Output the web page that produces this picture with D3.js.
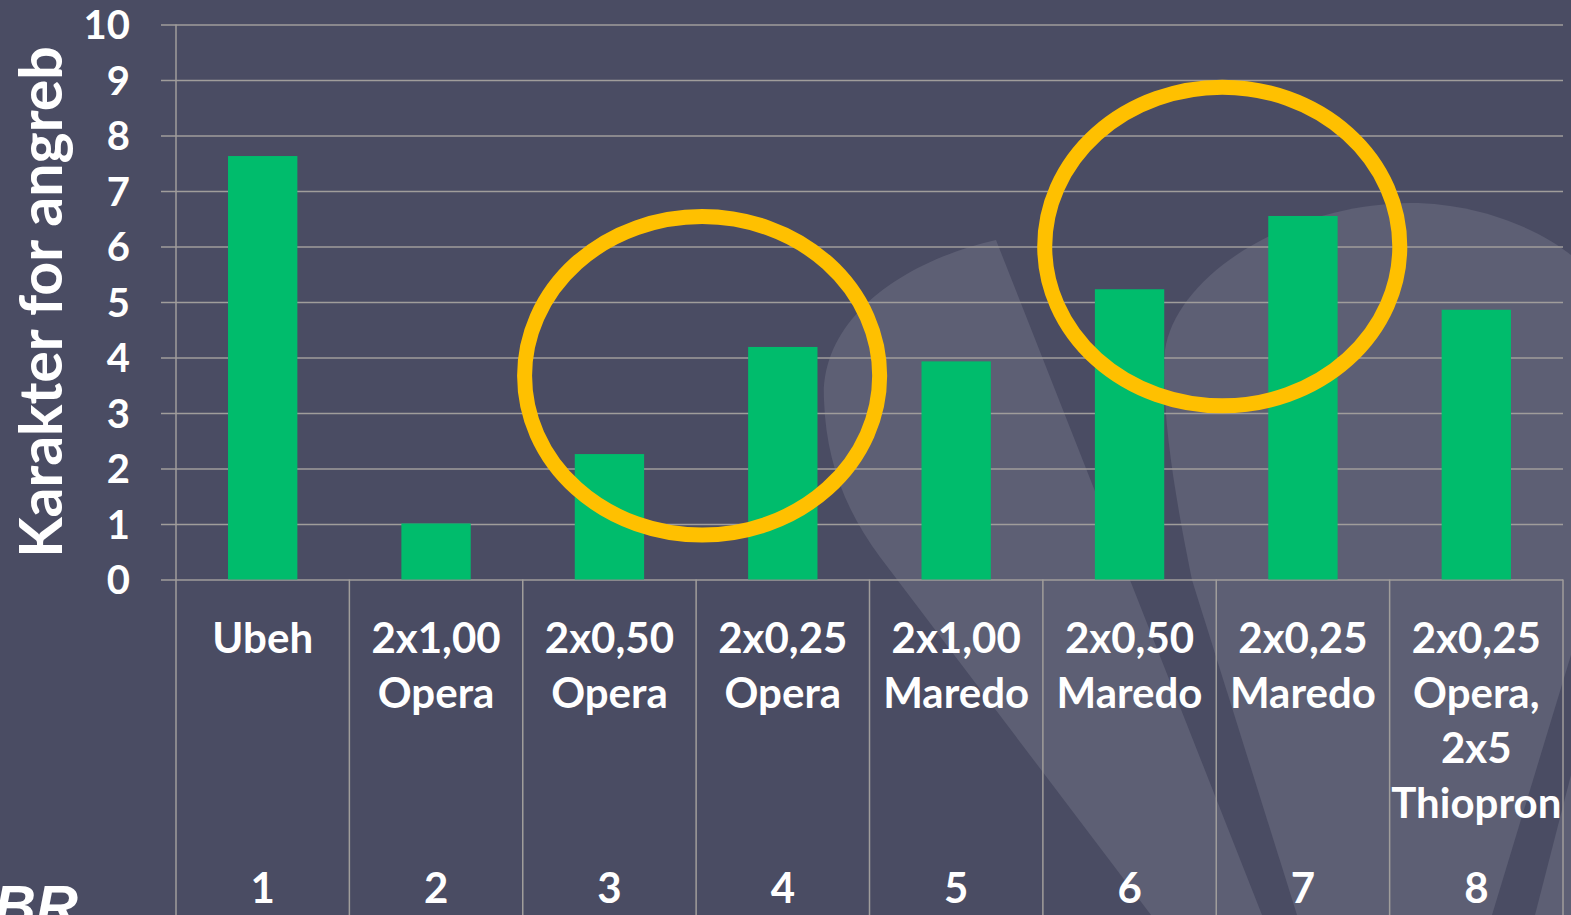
<!DOCTYPE html>
<html>
<head>
<meta charset="utf-8">
<script src="https://cdn.jsdelivr.net/npm/d3@7"></script>
<style>
  html, body { margin: 0; padding: 0; background: #4a4c63; overflow: hidden; }
  svg { display: block; }
</style>
</head>
<body>
<svg id="chart"></svg>
<script>
// data
const categories = ["1", "2", "3", "4", "5", "6", "7", "8"];
const treatments = [
    ["Ubeh"],
    ["2x1,00", "Opera"],
    ["2x0,50", "Opera"],
    ["2x0,25", "Opera"],
    ["2x1,00", "Maredo"],
    ["2x0,50", "Maredo"],
    ["2x0,25", "Maredo"],
    ["2x0,25", "Opera,", "2x5", "Thiopron"]
];
const values = [7.63, 1.01, 2.26, 4.19, 3.93, 5.23, 6.55, 4.86];
const yTicks = [0, 1, 2, 3, 4, 5, 6, 7, 8, 9, 10];
const yTitle = "Karakter for angreb";

// highlighted pairs (ellipse around two bars, centre value on y)
const highlightPairs = [["3", "4"], ["6", "7"]];
const highlightCentre = [3.67, 6.0];

const width = 1571;
const height = 915;

const svg = d3.select("#chart")
    .attr("width", width)
    .attr("height", height);

svg.append("rect")
    .attr("width", width)
    .attr("height", height)
    .attr("fill", "#4a4c63");

// faint background watermark of the slide
const watermark = svg.append("g").attr("fill", "#5d5f74");
watermark.append("path")
    .attr("d", "M996,240 C900,262 820,320 824,400 C826,460 845,510 880,557 L1151,915 L1262,915 Z");
watermark.append("path")
    .attr("d", "M1297,915 L1192,580 C1180,520 1160,420 1165,350 C1175,280 1280,205 1410,203 C1480,203 1540,230 1571,255 L1571,655 L1492,915 Z");
watermark.append("path")
    .attr("d", "M1571,775 L1535,915 L1571,915 Z");

const x = d3.scaleBand()
    .domain(categories)
    .range([176, 1563])
    .padding(0);

const y = d3.scaleLinear()
    .domain([0, 10])
    .range([579.5, 24.5]);

const gridColor = "#a09d9b";
const font = "Lato, 'Open Sans', sans-serif";

// horizontal gridlines + tick labels
const yAxis = d3.axisLeft(y)
    .tickValues(yTicks)
    .tickSize(-(1563 - 161))
    .tickPadding(0)
    .tickFormat(d3.format("d"));

const yg = svg.append("g")
    .attr("transform", "translate(161,0)")
    .call(yAxis);
yg.select(".domain").remove();
yg.selectAll(".tick line")
    .attr("stroke", gridColor)
    .attr("stroke-width", 1.5);
yg.selectAll(".tick text")
    .attr("x", -31)
    .attr("dy", "0.36em")
    .attr("fill", "#fff")
    .style("font-family", font)
    .style("font-weight", "bold")
    .style("font-size", "40px");

// category dividers (vertical lines through the label area)
const dividers = [176].concat(categories.map(c => x(c) + x.bandwidth()));
svg.append("g")
    .selectAll("line")
    .data(dividers)
    .join("line")
    .attr("x1", d => d)
    .attr("x2", d => d)
    .attr("y1", (d, i) => i === 0 ? y(10) : y(0))
    .attr("y2", height)
    .attr("stroke", gridColor)
    .attr("stroke-width", 1.5);

// bars
const barW = x.bandwidth() * 0.4;
svg.append("g")
    .selectAll("rect")
    .data(values)
    .join("rect")
    .attr("x", (d, i) => x(categories[i]) + (x.bandwidth() - barW) / 2)
    .attr("y", d => y(d))
    .attr("width", barW)
    .attr("height", d => y(0) - y(d))
    .attr("fill", "#00bc6c");

// category labels
const labels = svg.append("g")
    .attr("fill", "#fff")
    .style("font-family", font)
    .style("font-weight", "bold")
    .style("font-size", "42px")
    .attr("text-anchor", "middle");

categories.forEach((c, i) => {
    const cx = x(c) + x.bandwidth() / 2;
    treatments[i].forEach((line, j) => {
        labels.append("text")
            .attr("x", cx)
            .attr("y", 653 + j * 55)
            .text(line);
    });
    labels.append("text")
        .attr("x", cx)
        .attr("y", 903)
        .text(c);
});

// y-axis title
svg.append("text")
    .attr("transform", `translate(62,${(y(0) + y(10)) / 2}) rotate(-90)`)
    .attr("text-anchor", "middle")
    .attr("fill", "#fff")
    .style("font-family", font)
    .style("font-weight", "bold")
    .style("font-size", "59px")
    .text(yTitle);

// orange ellipses around compared pairs
svg.append("g")
    .selectAll("ellipse")
    .data(highlightPairs)
    .join("ellipse")
    .attr("cx", d => (x(d[0]) + x(d[1]) + x.bandwidth()) / 2 + 6)
    .attr("cy", (d, i) => y(highlightCentre[i]))
    .attr("rx", x.bandwidth() * 1.024)
    .attr("ry", (y(0) - y(2.87)))
    .attr("fill", "none")
    .attr("stroke", "#ffc000")
    .attr("stroke-width", 15);

// logo fragment bottom-left (cut by the slide edge, as in the original)
svg.append("text")
    .attr("x", -6)
    .attr("y", 926)
    .attr("fill", "#fff")
    .style("font-family", "'Liberation Sans', Arial, sans-serif")
    .style("font-weight", "bold")
    .style("font-style", "italic")
    .style("font-size", "58px")
    .text("BR");
</script>
</body>
</html>
